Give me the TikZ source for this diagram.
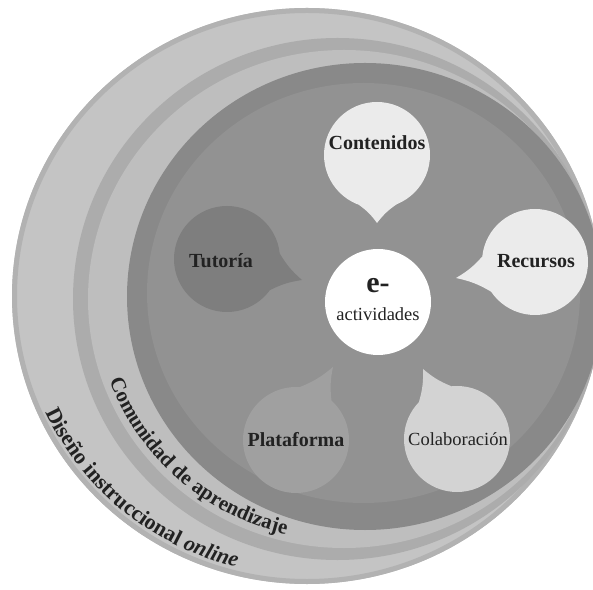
\documentclass[tikz,border=0pt]{standalone}
\usepackage{fontspec}
\setmainfont{Liberation Serif}
\usetikzlibrary{decorations.text}
\definecolor{cA}{HTML}{C4C4C4}
\definecolor{cArim}{HTML}{B2B2B2}
\definecolor{cB}{HTML}{ACACAC}
\definecolor{cBin}{HTML}{BEBEBE}
\definecolor{cC}{HTML}{898989}
\definecolor{cCin}{HTML}{929292}
\definecolor{bLight}{HTML}{EBEBEB}
\definecolor{bCol}{HTML}{D3D3D3}
\definecolor{bPla}{HTML}{A0A0A0}
\definecolor{bTut}{HTML}{7E7E7E}
\definecolor{ink}{HTML}{222222}
\newcommand\comfont{\fontsize{21}{23}\selectfont\bfseries}
\newcommand\disfont{\fontsize{22}{24}\selectfont\bfseries}
\newcommand\disitfont{\fontsize{22}{24}\selectfont\bfseries\itshape}
\begin{document}
\begin{tikzpicture}[x=1pt,y=1pt,
  bub/.style={circle, minimum size=106pt, inner sep=0pt, text=ink},
  bold lbl/.style={font=\fontsize{20}{22}\selectfont\bfseries},
  reg lbl/.style={font=\fontsize{18.5}{20}\selectfont},
  tail/.style={bend left=9}]
\useasboundingbox (0,0) rectangle (593,589);
\clip (0,0) rectangle (593,589);
% nested discs
\fill[cA] (307,293) ellipse [x radius=295, y radius=288];
\draw[cArim, line width=5pt] (307,293) ellipse [x radius=292.5, y radius=285.5];
\fill[cB] (337.5,290) ellipse [x radius=264.5, y radius=261];
\fill[cBin] (344,290) ellipse [x radius=256, y radius=249];
\fill[cC] (365,292.5) ellipse [x radius=238, y radius=233.5];
\fill[cCin] (363.5,296) ellipse [x radius=216.5, y radius=210];
% curved labels
\path[decorate, decoration={text along path, text align=center, text color=ink,
  text={|\disfont|Diseño instruccional |\disitfont|online}}]
  (307,293) ++(194:287 and 280) arc[start angle=194, end angle=266, x radius=287, y radius=280];
\path[decorate, decoration={text along path, text align=center, text color=ink,
  text={|\comfont|Comunidad de aprendizaje}}]
  (344,290) ++(193:249 and 242) arc[start angle=193, end angle=263, x radius=249, y radius=242];
% bubble centres and tips
\coordinate (cont) at (377,434);
\coordinate (rec) at (535,327);
\coordinate (tut) at (227,330);
\coordinate (pla) at (296,149);
\coordinate (col) at (457,150);
\coordinate (contTip) at (377,366);
\coordinate (recTip) at (456,311);
\coordinate (tutTip) at (302,309);
\coordinate (plaTip) at (333,222);
\coordinate (colTip) at (423,220);
% tails
\fill[bLight] ([shift={(250:53)}]cont) to[tail] (contTip) to[tail] ([shift={(292:53)}]cont) -- (cont) -- cycle;
\fill[bLight] ([shift={(174:53)}]rec) to[tail] (recTip) to[tail] ([shift={(214:53)}]rec) -- (rec) -- cycle;
\fill[bTut] ([shift={(-36:53)}]tut) to[tail] (tutTip) to[tail] ([shift={(6:53)}]tut) -- (tut) -- cycle;
\fill[bPla] ([shift={(48:53)}]pla) to[tail] (plaTip) to[tail] ([shift={(86:53)}]pla) -- (pla) -- cycle;
\fill[bCol] ([shift={(96:53)}]col) to[tail] (colTip) to[tail] ([shift={(136:53)}]col) -- (col) -- cycle;
% bubbles
\node[bub, fill=bLight] (contB) at (cont) {};
\node[bub, fill=bLight] (recB) at (rec) {};
\node[bub, fill=bTut] (tutB) at (tut) {};
\node[bub, fill=bPla] (plaB) at (pla) {};
\node[bub, fill=bCol] (colB) at (col) {};
\node[bub, fill=white] (ctr) at (378,287) {};
% labels
\node[bold lbl, text=ink] (contL) at (377,446) {Contenidos};
\node[bold lbl, text=ink] (recL) at (536,328) {Recursos};
\node[bold lbl, text=ink] (tutL) at (221,328) {Tutoría};
\node[bold lbl, text=ink] (plaL) at (296,149) {Plataforma};
\node[reg lbl, text=ink] (colL) at (458,150) {Colaboración};
\node[font=\fontsize{30}{30}\selectfont\bfseries, text=ink] (eL) at (378,303) {e-};
\node[reg lbl, text=ink] (actL) at (378,275) {actividades};
\end{tikzpicture}
\end{document}
